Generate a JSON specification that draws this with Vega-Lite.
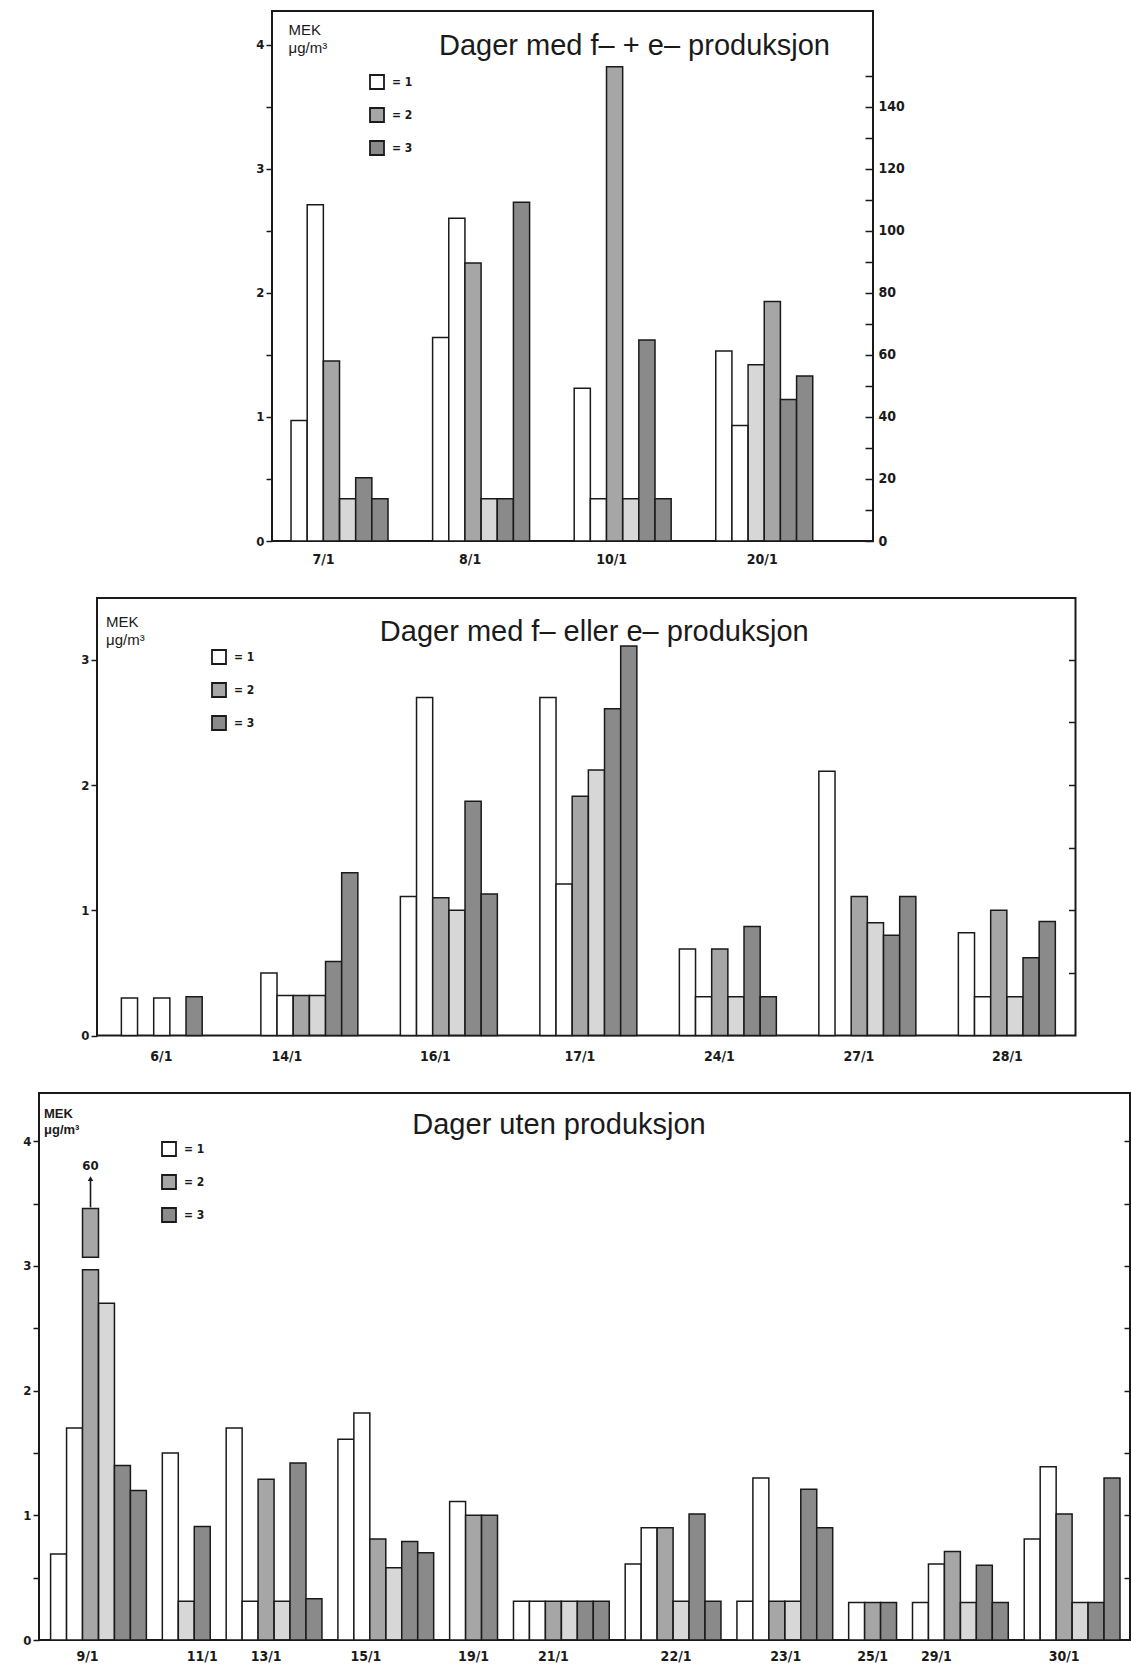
{
  "$schema": "https://vega.github.io/schema/vega-lite/v6.json",
  "background": "#ffffff",
  "padding": {"left": 18, "top": 10, "right": 0, "bottom": 0},
  "spacing": 25,
  "config": {
    "view": {"stroke": "#1a1a1a", "strokeWidth": 2},
    "axis": {"labelFont": "DejaVu Sans Condensed", "labelFontWeight": "bold", "labelFontSize": 13, "labelColor": "#1a1a1a", "tickColor": "#1a1a1a", "tickWidth": 1.5, "grid": false, "domain": false, "titleColor": "#1a1a1a"},
    "legend": {"orient": "none", "title": null, "direction": "vertical", "symbolType": "square", "symbolSize": 196, "symbolStrokeColor": "#1a1a1a", "symbolStrokeWidth": 1.8, "labelFont": "DejaVu Sans Condensed", "labelFontWeight": "bold", "labelFontSize": 12, "labelColor": "#1a1a1a", "labelOffset": 7, "rowPadding": 11, "padding": 0},
    "title": {"font": "Liberation Sans", "fontSize": 29, "fontWeight": "normal", "color": "#1a1a1a", "anchor": "middle", "frame": "group", "baseline": "middle"}
  },
  "datasets": {
    "p1": [
      {"d": "7/1", "p": 1, "t": "1", "s": "A", "v": 0.97},
      {"d": "7/1", "p": 2, "t": "1", "s": "B", "v": 2.71},
      {"d": "7/1", "p": 3, "t": "2", "s": "A", "v": 1.45},
      {"d": "7/1", "p": 4, "t": "2", "s": "B", "v": 0.34},
      {"d": "7/1", "p": 5, "t": "3", "s": "A", "v": 0.51},
      {"d": "7/1", "p": 6, "t": "3", "s": "B", "v": 0.34},
      {"d": "8/1", "p": 1, "t": "1", "s": "A", "v": 1.64},
      {"d": "8/1", "p": 2, "t": "1", "s": "B", "v": 2.6},
      {"d": "8/1", "p": 3, "t": "2", "s": "A", "v": 2.24},
      {"d": "8/1", "p": 4, "t": "2", "s": "B", "v": 0.34},
      {"d": "8/1", "p": 5, "t": "3", "s": "A", "v": 0.34},
      {"d": "8/1", "p": 6, "t": "3", "s": "B", "v": 2.73},
      {"d": "10/1", "p": 1, "t": "1", "s": "A", "v": 1.23},
      {"d": "10/1", "p": 2, "t": "1", "s": "B", "v": 0.34},
      {"d": "10/1", "p": 3, "t": "2", "s": "A", "v": 3.82},
      {"d": "10/1", "p": 4, "t": "2", "s": "B", "v": 0.34},
      {"d": "10/1", "p": 5, "t": "3", "s": "A", "v": 1.62},
      {"d": "10/1", "p": 6, "t": "3", "s": "B", "v": 0.34},
      {"d": "20/1", "p": 1, "t": "1", "s": "A", "v": 1.53},
      {"d": "20/1", "p": 2, "t": "1", "s": "B", "v": 0.93},
      {"d": "20/1", "p": 3, "t": "2", "s": "B", "v": 1.42},
      {"d": "20/1", "p": 4, "t": "2", "s": "A", "v": 1.93},
      {"d": "20/1", "p": 5, "t": "3", "s": "A", "v": 1.14},
      {"d": "20/1", "p": 6, "t": "3", "s": "B", "v": 1.33}
    ],
    "p2": [
      {"d": "6/1", "p": 1, "t": "1", "s": "A", "v": 0.3},
      {"d": "6/1", "p": 3, "t": "1", "s": "B", "v": 0.3},
      {"d": "6/1", "p": 5, "t": "3", "s": "A", "v": 0.31},
      {"d": "14/1", "p": 1, "t": "1", "s": "A", "v": 0.5},
      {"d": "14/1", "p": 2, "t": "1", "s": "B", "v": 0.32},
      {"d": "14/1", "p": 3, "t": "2", "s": "A", "v": 0.32},
      {"d": "14/1", "p": 4, "t": "2", "s": "B", "v": 0.32},
      {"d": "14/1", "p": 5, "t": "3", "s": "A", "v": 0.59},
      {"d": "14/1", "p": 6, "t": "3", "s": "B", "v": 1.3},
      {"d": "16/1", "p": 1, "t": "1", "s": "A", "v": 1.11},
      {"d": "16/1", "p": 2, "t": "1", "s": "B", "v": 2.7},
      {"d": "16/1", "p": 3, "t": "2", "s": "A", "v": 1.1},
      {"d": "16/1", "p": 4, "t": "2", "s": "B", "v": 1.0},
      {"d": "16/1", "p": 5, "t": "3", "s": "A", "v": 1.87},
      {"d": "16/1", "p": 6, "t": "3", "s": "B", "v": 1.13},
      {"d": "17/1", "p": 1, "t": "1", "s": "A", "v": 2.7},
      {"d": "17/1", "p": 2, "t": "1", "s": "B", "v": 1.21},
      {"d": "17/1", "p": 3, "t": "2", "s": "A", "v": 1.91},
      {"d": "17/1", "p": 4, "t": "2", "s": "B", "v": 2.12},
      {"d": "17/1", "p": 5, "t": "3", "s": "A", "v": 2.61},
      {"d": "17/1", "p": 6, "t": "3", "s": "B", "v": 3.11},
      {"d": "24/1", "p": 1, "t": "1", "s": "A", "v": 0.69},
      {"d": "24/1", "p": 2, "t": "1", "s": "B", "v": 0.31},
      {"d": "24/1", "p": 3, "t": "2", "s": "A", "v": 0.69},
      {"d": "24/1", "p": 4, "t": "2", "s": "B", "v": 0.31},
      {"d": "24/1", "p": 5, "t": "3", "s": "A", "v": 0.87},
      {"d": "24/1", "p": 6, "t": "3", "s": "B", "v": 0.31},
      {"d": "27/1", "p": 1, "t": "1", "s": "A", "v": 2.11},
      {"d": "27/1", "p": 3, "t": "2", "s": "A", "v": 1.11},
      {"d": "27/1", "p": 4, "t": "2", "s": "B", "v": 0.9},
      {"d": "27/1", "p": 5, "t": "3", "s": "A", "v": 0.8},
      {"d": "27/1", "p": 6, "t": "3", "s": "B", "v": 1.11},
      {"d": "28/1", "p": 1, "t": "1", "s": "A", "v": 0.82},
      {"d": "28/1", "p": 2, "t": "1", "s": "B", "v": 0.31},
      {"d": "28/1", "p": 3, "t": "2", "s": "A", "v": 1.0},
      {"d": "28/1", "p": 4, "t": "2", "s": "B", "v": 0.31},
      {"d": "28/1", "p": 5, "t": "3", "s": "A", "v": 0.62},
      {"d": "28/1", "p": 6, "t": "3", "s": "B", "v": 0.91}
    ],
    "p3": [
      {"k": "9/1|1", "d": "9/1", "t": "1", "s": "A", "v": 0.69},
      {"k": "9/1|2", "d": "9/1", "t": "1", "s": "B", "v": 1.7},
      {"k": "9/1|3", "d": "9/1", "t": "2", "s": "A", "v": 2.97},
      {"k": "9/1|4", "d": "9/1", "t": "2", "s": "B", "v": 2.7},
      {"k": "9/1|5", "d": "9/1", "t": "3", "s": "A", "v": 1.4},
      {"k": "9/1|6", "d": "9/1", "t": "3", "s": "B", "v": 1.2},
      {"k": "11/1|1", "d": "11/1", "t": "1", "s": "A", "v": 1.5},
      {"k": "11/1|2", "d": "11/1", "t": "2", "s": "B", "v": 0.31},
      {"k": "11/1|3", "d": "11/1", "t": "3", "s": "A", "v": 0.91},
      {"k": "13/1|1", "d": "13/1", "t": "1", "s": "A", "v": 1.7},
      {"k": "13/1|2", "d": "13/1", "t": "1", "s": "B", "v": 0.31},
      {"k": "13/1|3", "d": "13/1", "t": "2", "s": "A", "v": 1.29},
      {"k": "13/1|4", "d": "13/1", "t": "2", "s": "B", "v": 0.31},
      {"k": "13/1|5", "d": "13/1", "t": "3", "s": "A", "v": 1.42},
      {"k": "13/1|6", "d": "13/1", "t": "3", "s": "B", "v": 0.33},
      {"k": "15/1|1", "d": "15/1", "t": "1", "s": "A", "v": 1.61},
      {"k": "15/1|2", "d": "15/1", "t": "1", "s": "B", "v": 1.82},
      {"k": "15/1|3", "d": "15/1", "t": "2", "s": "A", "v": 0.81},
      {"k": "15/1|4", "d": "15/1", "t": "2", "s": "B", "v": 0.58},
      {"k": "15/1|5", "d": "15/1", "t": "3", "s": "A", "v": 0.79},
      {"k": "15/1|6", "d": "15/1", "t": "3", "s": "B", "v": 0.7},
      {"k": "19/1|1", "d": "19/1", "t": "1", "s": "A", "v": 1.11},
      {"k": "19/1|2", "d": "19/1", "t": "2", "s": "A", "v": 1.0},
      {"k": "19/1|3", "d": "19/1", "t": "3", "s": "A", "v": 1.0},
      {"k": "21/1|1", "d": "21/1", "t": "1", "s": "A", "v": 0.31},
      {"k": "21/1|2", "d": "21/1", "t": "1", "s": "B", "v": 0.31},
      {"k": "21/1|3", "d": "21/1", "t": "2", "s": "A", "v": 0.31},
      {"k": "21/1|4", "d": "21/1", "t": "2", "s": "B", "v": 0.31},
      {"k": "21/1|5", "d": "21/1", "t": "3", "s": "A", "v": 0.31},
      {"k": "21/1|6", "d": "21/1", "t": "3", "s": "B", "v": 0.31},
      {"k": "22/1|1", "d": "22/1", "t": "1", "s": "A", "v": 0.61},
      {"k": "22/1|2", "d": "22/1", "t": "1", "s": "B", "v": 0.9},
      {"k": "22/1|3", "d": "22/1", "t": "2", "s": "A", "v": 0.9},
      {"k": "22/1|4", "d": "22/1", "t": "2", "s": "B", "v": 0.31},
      {"k": "22/1|5", "d": "22/1", "t": "3", "s": "A", "v": 1.01},
      {"k": "22/1|6", "d": "22/1", "t": "3", "s": "B", "v": 0.31},
      {"k": "23/1|1", "d": "23/1", "t": "1", "s": "A", "v": 0.31},
      {"k": "23/1|2", "d": "23/1", "t": "1", "s": "B", "v": 1.3},
      {"k": "23/1|3", "d": "23/1", "t": "2", "s": "A", "v": 0.31},
      {"k": "23/1|4", "d": "23/1", "t": "2", "s": "B", "v": 0.31},
      {"k": "23/1|5", "d": "23/1", "t": "3", "s": "A", "v": 1.21},
      {"k": "23/1|6", "d": "23/1", "t": "3", "s": "B", "v": 0.9},
      {"k": "25/1|1", "d": "25/1", "t": "1", "s": "A", "v": 0.3},
      {"k": "25/1|2", "d": "25/1", "t": "2", "s": "A", "v": 0.3},
      {"k": "25/1|3", "d": "25/1", "t": "3", "s": "A", "v": 0.3},
      {"k": "29/1|1", "d": "29/1", "t": "1", "s": "A", "v": 0.3},
      {"k": "29/1|2", "d": "29/1", "t": "1", "s": "B", "v": 0.61},
      {"k": "29/1|3", "d": "29/1", "t": "2", "s": "A", "v": 0.71},
      {"k": "29/1|4", "d": "29/1", "t": "2", "s": "B", "v": 0.3},
      {"k": "29/1|5", "d": "29/1", "t": "3", "s": "A", "v": 0.6},
      {"k": "29/1|6", "d": "29/1", "t": "3", "s": "B", "v": 0.3},
      {"k": "30/1|1", "d": "30/1", "t": "1", "s": "A", "v": 0.81},
      {"k": "30/1|2", "d": "30/1", "t": "1", "s": "B", "v": 1.39},
      {"k": "30/1|3", "d": "30/1", "t": "2", "s": "A", "v": 1.01},
      {"k": "30/1|4", "d": "30/1", "t": "2", "s": "B", "v": 0.3},
      {"k": "30/1|5", "d": "30/1", "t": "3", "s": "A", "v": 0.3},
      {"k": "30/1|6", "d": "30/1", "t": "3", "s": "B", "v": 1.3}
    ],
    "brk": [
      {"k": "9/1|3", "lo": 3.07, "hi": 3.46, "a1": 3.47, "a2": 3.7, "ly": 3.8, "lab": "60"}
    ]
  },
  "vconcat": [
    {
      "spacing": 0,
      "resolve": {"scale": {"fill": "independent"}, "legend": {"fill": "independent"}},
      "hconcat": [
        {
          "width": 212,
          "height": 10,
          "data": {"values": [{}]},
          "mark": {"type": "point", "opacity": 0},
          "encoding": {},
          "view": {"stroke": "#000000", "strokeOpacity": 0}
        },
        {
          "width": 601,
          "height": 530,
          "data": {"name": "p1"},
          "title": {"text": "Dager med f– + e– produksjon", "offset": -50.4, "dx": 62},
          "layer": [
            {
              "mark": {"type": "bar", "stroke": "#1a1a1a", "strokeWidth": 1.5},
              "encoding": {
                "x": {"field": "d", "type": "nominal", "scale": {"domain": ["7/1", "8/1", "10/1", "20/1"], "paddingInner": 0.315, "paddingOuter": 0.28, "align": 0.24}, "axis": {"title": null, "labelAngle": 0, "ticks": false, "tickSize": 0, "labelPadding": 11, "labelOffset": {"condition": [{"test": "datum.value == '7/1'", "value": -16}, {"test": "datum.value == '20/1'", "value": -2}], "value": -11}, "labelFontSize": 14, "minExtent": 30}},
                "xOffset": {"field": "p", "type": "ordinal", "scale": {"domain": [1, 2, 3, 4, 5, 6], "paddingInner": 0, "paddingOuter": 0}},
                "y": {"field": "v", "type": "quantitative", "scale": {"domain": [0, 4.27], "nice": false}, "axis": {"values": [0, 0.5, 1, 1.5, 2, 2.5, 3, 3.5, 4], "format": ".0f", "labelExpr": "datum.value % 1 == 0 ? datum.label : ''", "tickSize": 6, "labelPadding": 2, "minExtent": 20, "title": ["MEK", "μg/m³"], "titleAngle": 0, "titleAlign": "left", "titleBaseline": "top", "titleX": 16, "titleY": 11, "titleFont": "Liberation Sans", "titleFontSize": 15, "titleFontWeight": "normal", "titleLineHeight": 18}},
                "fill": {"field": "t", "type": "nominal", "scale": {"domain": ["1", "2", "3"], "range": ["#ffffff", "#a6a6a6", "#8a8a8a"]}, "legend": {"legendX": 97, "legendY": 63, "labelExpr": "'= ' + datum.label"}},
                "fillOpacity": {"condition": {"test": "datum.s == 'B' && datum.t == '2'", "value": 0.45}, "value": 1}
              }
            },
            {
              "mark": {"type": "point", "opacity": 0},
              "encoding": {
                "y": {"field": "v", "type": "quantitative", "scale": {"domain": [0, 170.8], "nice": false}, "axis": {"orient": "right", "title": null, "values": [0, 10, 20, 30, 40, 50, 60, 70, 80, 90, 100, 110, 120, 130, 140, 150], "labelExpr": "datum.value % 20 == 0 && datum.value <= 140 ? datum.label : ''", "tickSize": -8, "labelPadding": 13, "labelFontSize": 14}}
              }
            }
          ],
          "resolve": {"scale": {"y": "independent"}}
        }
      ]
    },
    {
      "spacing": 0,
      "resolve": {"scale": {"fill": "independent"}, "legend": {"fill": "independent"}},
      "hconcat": [
        {
          "width": 36.5,
          "height": 10,
          "data": {"values": [{}]},
          "mark": {"type": "point", "opacity": 0},
          "encoding": {},
          "view": {"stroke": "#000000", "strokeOpacity": 0}
        },
        {
          "width": 978.5,
          "height": 437.5,
          "data": {"name": "p2"},
          "title": {"text": "Dager med f– eller e– produksjon", "offset": -48.6, "dx": 8},
          "layer": [
            {
              "mark": {"type": "bar", "stroke": "#1a1a1a", "strokeWidth": 1.5},
              "encoding": {
                "x": {"field": "d", "type": "nominal", "scale": {"domain": ["6/1", "14/1", "16/1", "17/1", "24/1", "27/1", "28/1"], "paddingInner": 0.2975, "paddingOuter": 0.156, "align": 0.56}, "axis": {"title": null, "labelAngle": 0, "ticks": false, "tickSize": 0, "labelPadding": 14, "labelOffset": {"condition": [{"test": "datum.value == '14/1'", "value": -23}, {"test": "datum.value == '28/1'", "value": 0}, {"test": "datum.value == '16/1'", "value": -14}], "value": -9}, "labelFontSize": 14, "minExtent": 30}},
                "xOffset": {"field": "p", "type": "ordinal", "scale": {"domain": [1, 2, 3, 4, 5, 6], "paddingInner": 0, "paddingOuter": 0}},
                "y": {"field": "v", "type": "quantitative", "scale": {"domain": [0, 3.494], "nice": false}, "axis": {"values": [0, 1, 2, 3], "format": ".0f", "tickSize": 6, "labelPadding": 2, "minExtent": 20, "title": ["MEK", "μg/m³"], "titleAngle": 0, "titleAlign": "left", "titleBaseline": "top", "titleX": 8.5, "titleY": 16, "titleFont": "Liberation Sans", "titleFontSize": 15, "titleFontWeight": "normal", "titleLineHeight": 18}},
                "fill": {"field": "t", "type": "nominal", "scale": {"domain": ["1", "2", "3"], "range": ["#ffffff", "#a6a6a6", "#8a8a8a"]}, "legend": {"legendX": 114, "legendY": 51, "labelExpr": "'= ' + datum.label"}},
                "fillOpacity": {"condition": {"test": "datum.s == 'B' && datum.t == '2'", "value": 0.45}, "value": 1}
              }
            },
            {
              "mark": {"type": "point", "opacity": 0},
              "encoding": {
                "y": {"field": "v", "type": "quantitative", "scale": {"domain": [0, 3.494], "nice": false}, "axis": {"orient": "right", "title": null, "values": [0.5, 1, 1.5, 2, 2.5, 3], "labels": false, "tickSize": -7}}
              }
            }
          ],
          "resolve": {"scale": {"y": "independent"}}
        }
      ]
    },
    {
      "width": 1091,
      "height": 547,
      "data": {"name": "p3"},
      "title": {"text": "Dager uten produksjon", "offset": -46.8, "dx": -25.5},
      "layer": [
        {
          "layer": [
            {
              "mark": {"type": "bar", "stroke": "#1a1a1a", "strokeWidth": 1.5},
              "encoding": {
                "x": {"field": "k", "type": "nominal", "scale": {"domain": ["9/1|1", "9/1|2", "9/1|3", "9/1|4", "9/1|5", "9/1|6", "g1", "11/1|1", "11/1|2", "11/1|3", "g2", "13/1|1", "13/1|2", "13/1|3", "13/1|4", "13/1|5", "13/1|6", "g3", "15/1|1", "15/1|2", "15/1|3", "15/1|4", "15/1|5", "15/1|6", "g4", "19/1|1", "19/1|2", "19/1|3", "g5", "21/1|1", "21/1|2", "21/1|3", "21/1|4", "21/1|5", "21/1|6", "g6", "22/1|1", "22/1|2", "22/1|3", "22/1|4", "22/1|5", "22/1|6", "g7", "23/1|1", "23/1|2", "23/1|3", "23/1|4", "23/1|5", "23/1|6", "g8", "25/1|1", "25/1|2", "25/1|3", "g9", "29/1|1", "29/1|2", "29/1|3", "29/1|4", "29/1|5", "29/1|6", "g10", "30/1|1", "30/1|2", "30/1|3", "30/1|4", "30/1|5", "30/1|6"], "paddingInner": 0, "paddingOuter": 0.677, "align": 0.537}, "axis": {"title": null, "labelAngle": 0, "ticks": false, "tickSize": 0, "labelPadding": 9, "labelOffset": {"condition": [{"test": "datum.value == '9/1|3'", "value": -3}, {"test": "datum.value == '15/1|2'", "value": 4}, {"test": "datum.value == '22/1|4'", "value": -5}, {"test": "datum.value == '23/1|4'", "value": -7}], "value": 0}, "labelFontSize": 14, "labelOverlap": false, "labelExpr": "indexof(['9/1|3','11/1|3','13/1|3','15/1|2','19/1|2','21/1|3','22/1|4','23/1|4','25/1|2','29/1|2','30/1|3'], datum.value) >= 0 ? split(datum.value, '|')[0] : ''"}},
                "y": {"field": "v", "type": "quantitative", "scale": {"domain": [0, 4.387], "nice": false}, "axis": {"values": [0, 0.5, 1, 1.5, 2, 2.5, 3, 3.5, 4], "format": ".0f", "labelExpr": "datum.value % 1 == 0 ? datum.label : ''", "tickSize": 6, "labelPadding": 2, "minExtent": 20, "title": ["MEK", "μg/m³"], "titleAngle": 0, "titleAlign": "left", "titleBaseline": "top", "titleX": 4.5, "titleY": 14, "titleFont": "Liberation Sans", "titleFontSize": 13, "titleFontWeight": "bold", "titleLineHeight": 16}},
                "fill": {"field": "t", "type": "nominal", "scale": {"domain": ["1", "2", "3"], "range": ["#ffffff", "#a6a6a6", "#8a8a8a"]}, "legend": {"legendX": 122, "legendY": 48, "labelExpr": "'= ' + datum.label"}},
                "fillOpacity": {"condition": {"test": "datum.s == 'B' && datum.t == '2'", "value": 0.45}, "value": 1}
              }
            },
            {
              "data": {"name": "brk"},
              "mark": {"type": "bar", "fill": "#a6a6a6", "stroke": "#1a1a1a", "strokeWidth": 1.5},
              "encoding": {
                "x": {"field": "k", "type": "nominal"},
                "y": {"field": "lo", "type": "quantitative"},
                "y2": {"field": "hi"}
              }
            },
            {
              "data": {"name": "brk"},
              "mark": {"type": "rule", "color": "#1a1a1a", "strokeWidth": 1.6},
              "encoding": {
                "x": {"field": "k", "type": "nominal"},
                "y": {"field": "a1", "type": "quantitative"},
                "y2": {"field": "a2"}
              }
            },
            {
              "data": {"name": "brk"},
              "mark": {"type": "point", "shape": "triangle-up", "filled": true, "size": 30, "color": "#1a1a1a", "opacity": 1},
              "encoding": {
                "x": {"field": "k", "type": "nominal"},
                "y": {"field": "a2", "type": "quantitative"}
              }
            },
            {
              "data": {"name": "brk"},
              "mark": {"type": "text", "font": "DejaVu Sans Condensed", "fontWeight": "bold", "fontSize": 13, "color": "#1a1a1a"},
              "encoding": {
                "x": {"field": "k", "type": "nominal"},
                "y": {"field": "ly", "type": "quantitative"},
                "text": {"field": "lab"}
              }
            }
          ]
        },
        {
          "mark": {"type": "point", "opacity": 0},
          "encoding": {
            "y": {"field": "v", "type": "quantitative", "scale": {"domain": [0, 4.387], "nice": false}, "axis": {"orient": "right", "title": null, "values": [0.5, 1, 1.5, 2, 2.5, 3, 3.5, 4], "labels": false, "tickSize": -6}}
          }
        }
      ],
      "resolve": {"scale": {"y": "independent"}}
    }
  ],
  "resolve": {"scale": {"fill": "independent"}, "legend": {"fill": "independent"}}
}
